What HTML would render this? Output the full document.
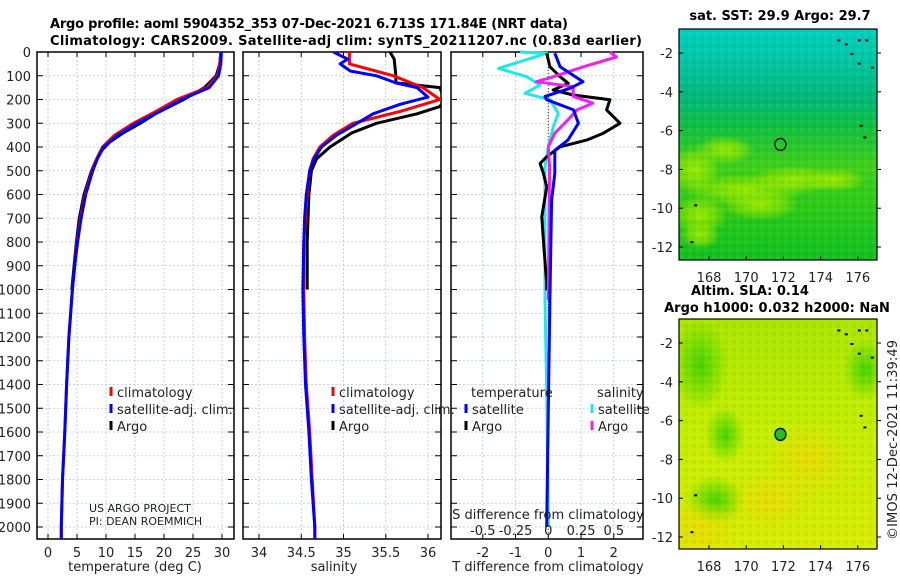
<!DOCTYPE html>
<html><head><meta charset="utf-8"><style>
body{margin:0;background:#fff}
svg{display:block;font-family:"DejaVu Sans","Liberation Sans",sans-serif}
</style></head><body>
<svg id="c" width="900" height="580" viewBox="0 0 900 580" xmlns="http://www.w3.org/2000/svg">
<defs>
<radialGradient id="g1" cx="0.5" cy="0.5" r="0.5"><stop offset="0" stop-color="#a0ec00" stop-opacity="0.95"/><stop offset="0.6" stop-color="#90e400" stop-opacity="0.6"/><stop offset="1" stop-color="#90e400" stop-opacity="0"/></radialGradient>
<radialGradient id="g2" cx="0.5" cy="0.5" r="0.5"><stop offset="0" stop-color="#38d000" stop-opacity="0.9"/><stop offset="1" stop-color="#38d000" stop-opacity="0"/></radialGradient>
<radialGradient id="g3" cx="0.5" cy="0.5" r="0.5"><stop offset="0" stop-color="#f0d800" stop-opacity="0.8"/><stop offset="1" stop-color="#f0d800" stop-opacity="0"/></radialGradient>
<linearGradient id="sstg" x1="0" y1="0" x2="0" y2="1">
<stop offset="0" stop-color="#00d0c0"/><stop offset="0.12" stop-color="#00c8a8"/><stop offset="0.3" stop-color="#00b878"/><stop offset="0.42" stop-color="#10c040"/><stop offset="0.6" stop-color="#40d018"/><stop offset="0.8" stop-color="#28c818"/><stop offset="1" stop-color="#10c020"/></linearGradient>
<linearGradient id="slag" x1="0" y1="0" x2="0" y2="1">
<stop offset="0" stop-color="#a8e600"/><stop offset="0.5" stop-color="#c4ee00"/><stop offset="1" stop-color="#d8ec00"/></linearGradient>
<pattern id="pix" width="8" height="8" patternUnits="userSpaceOnUse"><rect width="4" height="4" fill="#fff" opacity="0.05"/><rect x="4" y="4" width="4" height="4" fill="#000" opacity="0.04"/></pattern>
</defs>
<g id="titles">
<text x="50" y="28" font-size="13" font-weight="bold" textLength="518">Argo profile: aoml 5904352_353 07-Dec-2021 6.713S 171.84E (NRT data)</text>
<text x="50" y="45" font-size="13" font-weight="bold" textLength="592">Climatology: CARS2009. Satellite-adj clim: synTS_20211207.nc (0.83d earlier)</text>
</g>
<g id="plots"></g>
<g id="maps"></g>
<text transform="translate(897,540) rotate(-90)" font-size="13" fill="#222" textLength="200">©IMOS 12-Dec-2021 11:39:49</text>
</svg>
<script>
// ---------- data ----------
const depthTicks=[0,100,200,300,400,500,600,700,800,900,1000,1100,1200,1300,1400,1500,1600,1700,1800,1900,2000];
const tempTicks=[0,5,10,15,20,25,30];
const salTicks=[34,34.5,35,35.5,36];
const salTickLabels=["34","34.5","35","35.5","36"];
const diffTTicks=[-2,-1,0,1,2];
const diffSTicks=[-0.5,-0.25,0,0.25,0.5];
const diffSTickLabels=["-0.5","-0.25","0","0.25","0.5"];

const climDepth=[0,50,100,150,200,250,300,350,400,450,500,600,700,800,900,1000,1200,1400,1600,1800,2000,2050];
const climTemp=[29.8,29.6,29.2,27.4,22.2,18.6,14.7,11.5,9.4,8.4,7.6,6.4,5.6,5.0,4.6,4.2,3.6,3.2,2.9,2.5,2.3,2.3];
const satTemp=[29.9,29.8,29.4,27.8,23.0,19.3,15.3,12.0,9.6,8.5,7.7,6.5,5.7,5.1,4.6,4.2,3.6,3.2,2.9,2.5,2.3,2.3];
const argoDepth=[0,50,100,150,200,230,260,300,340,380,420,460,500,600,700,800,900,1000];
const argoTemp=[29.8,29.6,29.0,27.0,23.4,21.0,18.5,15.9,13.0,10.6,9.0,8.2,7.5,6.2,5.4,4.9,4.5,4.1];

const climSal=[35.07,35.07,35.59,35.94,36.14,35.67,35.11,34.88,34.72,34.64,34.6,34.57,34.55,34.53,34.53,34.53,34.54,34.56,34.6,34.63,34.66,34.66];
const satDepth=[0,30,50,80,100,130,150,190,220,260,300,350,400,450,500,600,700,800,1000,1200,1400,1600,1800,2000,2050];
const satSal=[34.88,35.05,34.96,35.08,35.39,35.62,35.87,36.0,35.67,35.35,35.16,34.92,34.74,34.65,34.6,34.56,34.54,34.53,34.52,34.53,34.55,34.59,34.62,34.66,34.66];
const argoSDepth=[0,30,100,130,150,200,230,260,300,340,400,450,500,600,800,1000];
const argoSal=[35.55,35.6,35.62,35.62,36.14,36.2,36.14,35.87,35.39,35.1,34.84,34.68,34.62,34.59,34.57,34.57];

const dTsatDepth=[5,62,125,153,187,201,244,300,371,414,511,624,1046,1500,2000];
const dTsat=[0.2,0.36,1.06,0.66,-0.1,-0.05,0.77,0.92,0.6,0.2,0.2,0.1,0.05,0.0,-0.05];
const dTargoDepth=[5,62,104,132,160,181,201,244,300,342,371,399,441,469,511,568,694,793,976,1004];
const dTargo=[-0.05,0.05,0.36,0.61,0.15,0.76,1.88,1.78,2.19,1.68,1.17,0.36,-0.05,-0.25,-0.15,-0.05,-0.2,-0.15,-0.05,-0.05];
const dSsatDepth=[0,5,69,104,139,174,201,259,315,399,484,1046,1500,2000];
const dSsat=[-0.216,-0.01,-0.38,-0.165,-0.063,-0.178,0.013,0.076,0.038,0,-0.025,-0.025,-0.01,0.0];
const dSargoDepth=[0,21,62,104,125,146,187,215,244,286,342,399,484,1046];
const dSargo=[0.47,0.52,0.27,0.04,-0.09,0.19,0.19,0.34,0.22,0.15,0.05,0.0,0.01,0.0];

const argoLon=171.84, argoLat=-6.713;
const lonTicks=[168,170,172,174,176];
const latTicks=[-2,-4,-6,-8,-10,-12];

// ---------- helpers ----------
const NS="http://www.w3.org/2000/svg";
function mk(tag,attrs,parent){const e=document.createElementNS(NS,tag);for(const k in attrs)e.setAttribute(k,attrs[k]);parent.appendChild(e);return e;}
const plots=document.getElementById('plots');
const Y0=52,Ys=0.2375,BOT=539;
const yD=d=>Y0+d*Ys;
const panels=[
 {name:'temperature',x0:37,x1:234,xf:v=>48+v*5.8},
 {name:'salinity',x0:243,x1:441,xf:v=>259+(v-34)*84.5},
 {name:'difference',x0:451,x1:643,xf:v=>548.3+v*32.75}
];
const xS3=v=>548.3+v*131;

panels.forEach((p,i)=>{
 const g=mk('g',{},plots);
 
 
 const ticks=i==0?tempTicks:i==1?salTicks:diffTTicks;
 ticks.forEach(t=>{const x=p.xf(t);
  const l=mk('line',{x1:x,x2:x,y1:Y0,y2:BOT,stroke:'#b8c4e0','stroke-width':0.8,'stroke-dasharray':'2,2'},g);
  
  mk('line',{x1:x,x2:x,y1:BOT,y2:BOT-5,stroke:'#000'},g);mk('line',{x1:x,x2:x,y1:Y0,y2:Y0+5,stroke:'#000'},g);
 });
 depthTicks.forEach(d=>{const y=yD(d);
  const l=mk('line',{x1:p.x0,x2:p.x1,y1:y,y2:y,stroke:'#b8c4e0','stroke-width':0.8,'stroke-dasharray':'2,2'},g);
  
  mk('line',{x1:p.x0,x2:p.x0+6,y1:y,y2:y,stroke:'#000'},g);mk('line',{x1:p.x1-6,x2:p.x1,y1:y,y2:y,stroke:'#000'},g);
 });
 const r=mk('rect',{x:p.x0,y:Y0,width:p.x1-p.x0,height:BOT-Y0,fill:'none',stroke:'#000','stroke-width':1.5},g);
 
 ticks.forEach((t,j)=>{
  const tx=mk('text',{x:p.xf(t),y:557,'font-size':13,'text-anchor':'middle',fill:'#222'},g);
  tx.textContent=i==1?salTickLabels[j]:String(t);
  
 });
});
depthTicks.forEach(d=>{
 const t=mk('text',{x:31,y:yD(d)+5,'font-size':13,'text-anchor':'end',fill:'#222'},plots);
 t.textContent=String(d);
 
});
[[135,'temperature (deg C)','temperature-axis-title'],[334,'salinity','salinity-axis-title'],[548,'T difference from climatology','t-diff-axis-title']].forEach(a=>{
 const t=mk('text',{x:a[0],y:571,'font-size':13,'text-anchor':'middle',fill:'#222'},plots);t.textContent=a[1];
 
});
const zl=mk('line',{x1:548.3,x2:548.3,y1:Y0,y2:BOT,stroke:'#333','stroke-dasharray':'1,2','stroke-width':1},plots);


function series(xf,vals,depths,color,name,w){
 const pts=vals.map((v,k)=>xf(v).toFixed(1)+','+yD(depths[k]).toFixed(1)).join(' ');
 const pl=mk('polyline',{points:pts,fill:'none',stroke:color,'stroke-width':w||3,'stroke-linejoin':'round'},plots);
 
}
const P1=panels[0].xf,P2=panels[1].xf,P3=panels[2].xf;
const cp=mk('clipPath',{id:'cp2'},plots);mk('rect',{x:243,y:52,width:198,height:487},cp);
series(P1,argoTemp,argoDepth,'#000','argo-temperature-line');
series(P1,climTemp,climDepth,'#f00','climatology-temperature-line');
series(P1,satTemp,climDepth,'#00f','satellite-temperature-line');
const g2=plots.childElementCount;
series(P2,argoSal,argoSDepth,'#000','argo-salinity-line');
series(P2,climSal,climDepth,'#f00','climatology-salinity-line');
series(P2,satSal,satDepth,'#00f','satellite-salinity-line');
for(let k=g2;k<plots.childElementCount;k++)plots.children[k].setAttribute('clip-path','url(#cp2)');
series(xS3,dSsat,dSsatDepth,'#20e8e8','salinity-satellite-diff-line');
series(P3,dTargo,dTargoDepth,'#000','temperature-argo-diff-line');
series(xS3,dSargo,dSargoDepth,'#f020f0','salinity-argo-diff-line');
series(P3,dTsat,dTsatDepth,'#00f','temperature-satellite-diff-line');

const sl=mk('text',{x:548,y:519,'font-size':13,'text-anchor':'middle',fill:'#222'},plots);sl.textContent='S difference from climatology';

diffSTicks.forEach((s,j)=>{const t=mk('text',{x:xS3(s),y:535,'font-size':13,'text-anchor':'middle',fill:'#222'},plots);t.textContent=diffSTickLabels[j];
 });

function leg(x,y,color,label){
 const m=mk('line',{x1:x,x2:x,y1:y-10,y2:y-1,stroke:color,'stroke-width':3},plots);
 
 const t=mk('text',{x:x+6,y:y,'font-size':13,fill:'#222'},plots);t.textContent=label;
 
}
leg(111,397,'#f00','climatology');leg(111,414,'#00f','satellite-adj. clim.');leg(111,431,'#000','Argo');
leg(333,397,'#f00','climatology');leg(333,414,'#00f','satellite-adj. clim.');leg(333,431,'#000','Argo');
const lt=mk('text',{x:471,y:397,'font-size':13,fill:'#222'},plots);lt.textContent='temperature';
const ls=mk('text',{x:597,y:397,'font-size':13,fill:'#222'},plots);ls.textContent='salinity';
leg(466,414,'#00f','satellite');leg(466,431,'#000','Argo');
leg(592,414,'#20e8e8','satellite');leg(592,431,'#f020f0','Argo');
const c1=mk('text',{x:89,y:512,'font-size':11,fill:'#222'},plots);c1.textContent='US ARGO PROJECT';
const c2=mk('text',{x:89,y:525,'font-size':11,fill:'#222'},plots);c2.textContent='PI: DEAN ROEMMICH';

// ---------- maps ----------
const maps=document.getElementById('maps');
const MX0=679,MX1=877;
const lonX=lo=>709+(lo-168)*18.6;
function drawMap(top,bot,latY,fill,isSST){
 const g=mk('g',{},maps);
 
 const cid='mc'+(isSST?1:2);
 const c=mk('clipPath',{id:cid},g);mk('rect',{x:MX0,y:top,width:MX1-MX0,height:bot-top},c);
 const inner=mk('g',{'clip-path':'url(#'+cid+')'},g);
 mk('rect',{x:MX0,y:top,width:MX1-MX0,height:bot-top,fill:fill},inner);
 if(isSST){
  [[695,170,25,25],[725,150,30,14],[745,190,60,16],[795,180,45,14],[835,180,30,12],[700,215,28,20],[760,205,40,15],[700,235,20,14]].forEach(b=>mk('ellipse',{cx:b[0],cy:b[1],rx:b[2],ry:b[3],fill:'url(#g1)'},inner));
 } else {
  [[700,75,28,45],[865,80,22,30],[725,145,20,28],[715,210,30,25]].forEach(b=>mk('ellipse',{cx:b[0],cy:b[1]+290,rx:b[2],ry:b[3],fill:'url(#g2)'},inner));
  [[700,530,40,30],[810,460,45,40],[770,500,40,30]].forEach(b=>mk('ellipse',{cx:b[0],cy:b[1],rx:b[2],ry:b[3],fill:'url(#g3)'},inner));
 }
 mk('rect',{x:MX0,y:top,width:MX1-MX0,height:bot-top,fill:'url(#pix)'},inner);
 [[174.9,-1.3],[175.3,-1.5],[176,-1.3],[176.4,-1.3],[175.6,-2],[176,-2.5],[176.7,-2.7],[176.1,-5.7],[176.3,-6.3],[167.2,-9.8],[167,-11.7]].forEach(p=>mk('rect',{x:lonX(p[0]),y:latY(p[1]),width:3,height:2,fill:'#000'},inner));
 mk('rect',{x:MX0,y:top,width:MX1-MX0,height:bot-top,fill:'none',stroke:'#000','stroke-width':1.2},g);
 lonTicks.forEach(lo=>{const x=lonX(lo);mk('line',{x1:x,x2:x,y1:bot,y2:bot-4,stroke:'#000'},g);
  const t=mk('text',{x:x,y:bot+22,'font-size':13,'text-anchor':'middle',fill:'#222'},g);t.textContent=String(lo);
  });
 latTicks.forEach(la=>{const y=latY(la);mk('line',{x1:MX0,x2:MX0+4,y1:y,y2:y,stroke:'#000'},g);mk('line',{x1:MX1,x2:MX1+4,y1:y,y2:y,stroke:'#000'},g);
  const t=mk('text',{x:673,y:y+5,'font-size':13,'text-anchor':'end',fill:'#222'},g);t.textContent=String(la);
  });
 const m=mk('ellipse',{cx:lonX(argoLon),cy:latY(argoLat),rx:5.5,ry:6,fill:isSST?'none':'#20c020',stroke:'#000','stroke-width':1.3},g);
 
}
drawMap(29,260,la=>53+(-2-la)*19.4,'url(#sstg)',true);
drawMap(319,549,la=>343+(-2-la)*19.4,'url(#slag)',false);
[[780,20,'sat. SST: 29.9 Argo: 29.7','sst-map-title'],[750,295,'Altim. SLA: 0.14','sla-map-title'],[777,312,'Argo h1000: 0.032 h2000: NaN','steric-height-title']].forEach(a=>{
 const t=mk('text',{x:a[0],y:a[1],'font-size':13,'font-weight':'bold','text-anchor':'middle'},maps);t.textContent=a[2];
 
});
</script>
</body></html>
